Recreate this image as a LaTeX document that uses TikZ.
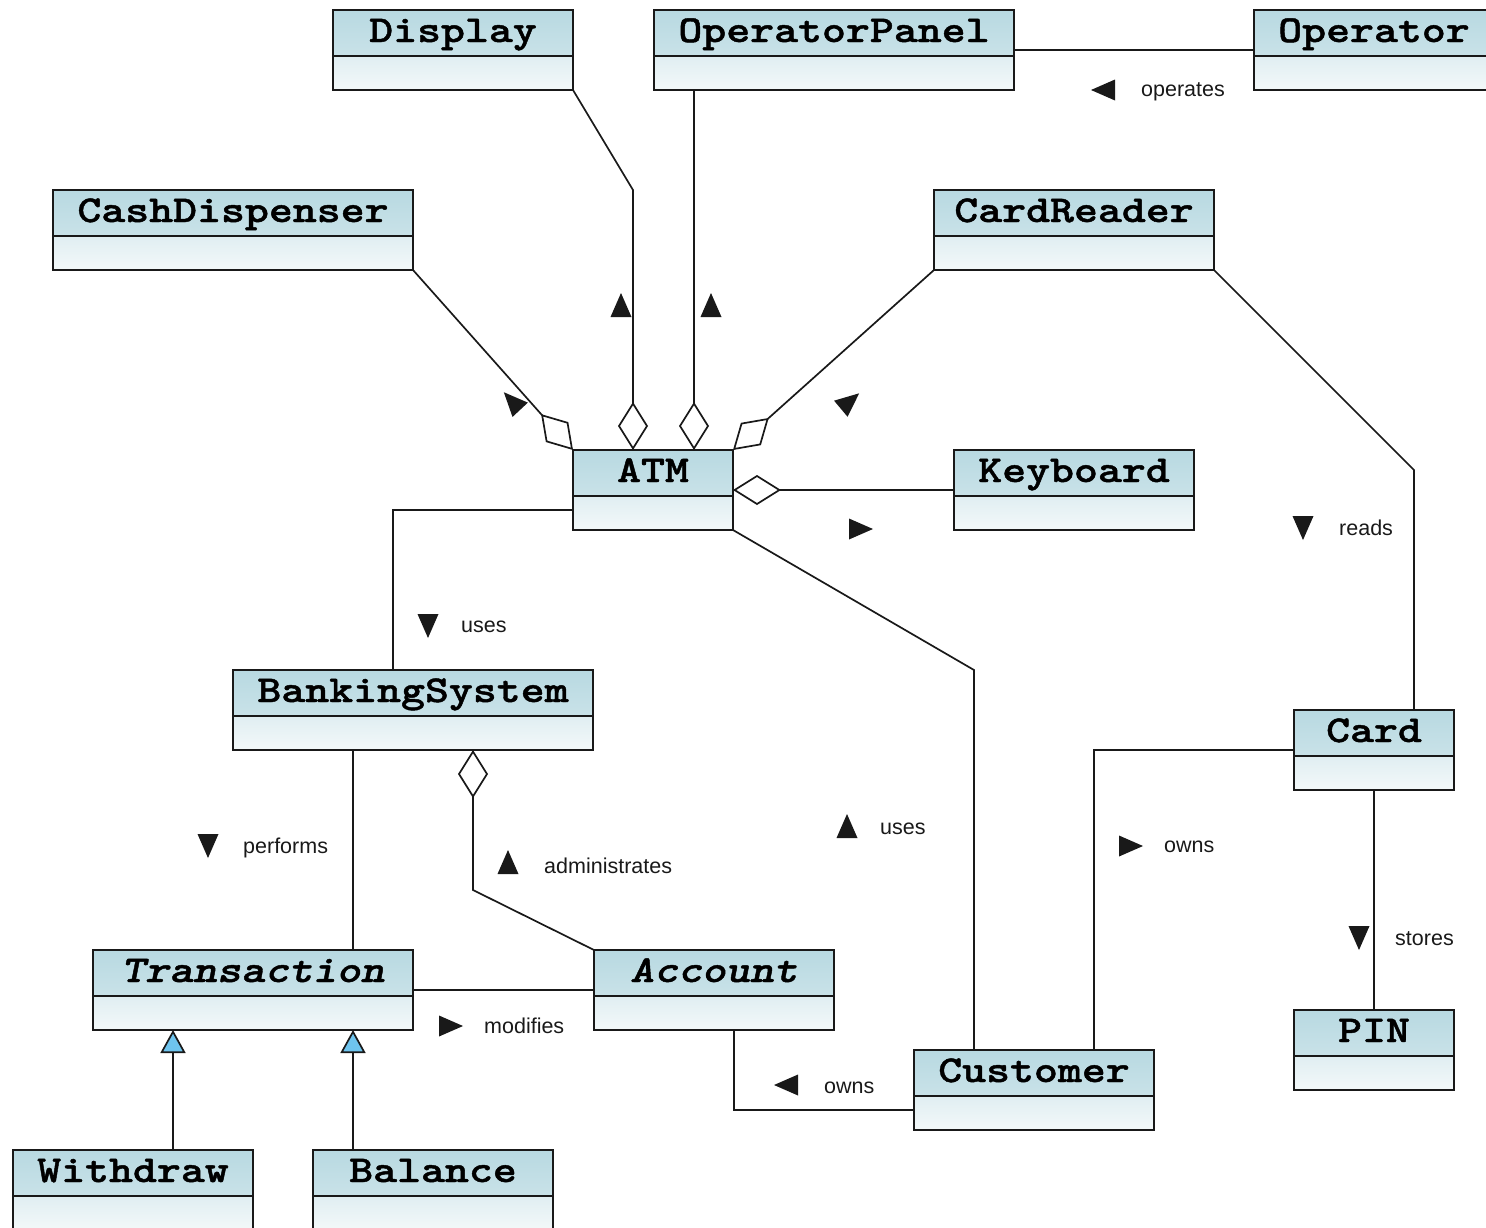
\documentclass[tikz,border=0pt]{standalone}
\usepackage{fontspec}
\setmainfont{Liberation Sans}
\newfontfamily\classfont{Latin Modern Mono Light}[FakeStretch=1.2, BoldFeatures={FakeBold=1.2}, BoldItalicFeatures={FakeBold=1.2}]
\usetikzlibrary{arrows.meta,calc}

\definecolor{hdrtop}{RGB}{184,217,225}
\definecolor{hdrbot}{RGB}{214,233,238}
\definecolor{bodytop}{RGB}{224,238,242}
\definecolor{bodybot}{RGB}{243,248,249}
\definecolor{genblue}{RGB}{110,196,238}
\definecolor{ink}{RGB}{25,25,25}

\tikzset{
  % UML class box: shaded name compartment over an empty body compartment
  umlclass/.style={draw=ink, line width=1.8pt, inner sep=0pt, outer sep=0pt,
    text width=#1, align=center, text height=32pt, text depth=48pt,
    font=\classfont\bfseries\fontsize{38}{38}\selectfont,
    path picture={
      \shade[top color=hdrtop, bottom color=hdrbot]
        (path picture bounding box.north west) rectangle
        ([yshift=-46pt]path picture bounding box.north east);
      \shade[top color=bodytop, bottom color=bodybot]
        ([yshift=-46pt]path picture bounding box.north west) rectangle
        (path picture bounding box.south east);
      \draw[ink, line width=1.8pt]
        ([yshift=-46pt]path picture bounding box.north west) --
        ([yshift=-46pt]path picture bounding box.north east);
    }},
  abstract/.style={font=\classfont\bfseries\itshape\fontsize{38}{38}\selectfont},
  assoc/.style={draw=ink, line width=1.7pt},
  agg/.style={assoc, -{Diamond[length=48pt, width=30pt, fill=white]}},
  gen/.style={assoc, -{Triangle[length=23pt, width=25pt, fill=genblue]}},
  lbl/.style={anchor=base west, inner sep=0pt, text=ink,
    font=\fontsize{21.5}{24}\selectfont},
  dirmark/.pic={\fill[ink] (12,0) -- (-12,10.5) -- (-12,-10.5) -- cycle;},
}

\begin{document}
\begin{tikzpicture}[x=1pt, y=-1pt]
\useasboundingbox (0,0) rectangle (1486,1227);
\clip (0,0) rectangle (1486,1227);

% classes
\node[umlclass=240pt] (display)       at (453,50)   {Display};
\node[umlclass=360pt] (operatorpanel) at (834,50)   {OperatorPanel};
\node[umlclass=240pt] (operator)      at (1374,50)  {Operator};
\node[umlclass=360pt] (cashdispenser) at (233,230)  {CashDispenser};
\node[umlclass=280pt] (cardreader)    at (1074,230) {CardReader};
\node[umlclass=160pt] (atm)           at (653,490)  {ATM};
\node[umlclass=240pt] (keyboard)      at (1074,490) {Keyboard};
\node[umlclass=360pt] (bankingsystem) at (413,710)  {BankingSystem};
\node[umlclass=160pt] (card)          at (1374,750) {Card};
\node[umlclass=320pt, abstract] (transaction) at (253,990) {Transaction};
\node[umlclass=240pt, abstract] (account)     at (714,990) {Account};
\node[umlclass=160pt] (pin)           at (1374,1050) {PIN};
\node[umlclass=240pt] (customer)      at (1034,1090) {Customer};
\node[umlclass=240pt] (withdraw)      at (133,1190) {Withdraw};
\node[umlclass=240pt] (balance)       at (433,1190) {Balance};

% aggregations into the ATM
\draw[agg] (display.south east) -- (633,190) -- ([xshift=-20pt]atm.north);
\draw[agg] ([xshift=41pt]atm.north |- operatorpanel.south) -- ([xshift=41pt]atm.north);
\draw[agg] (cashdispenser.south east) -- (atm.north west);
\draw[agg] (cardreader.south west) -- (atm.north east);
\draw[agg] (keyboard.west) -- (atm.east);
\draw[agg] (account.north west) -- (473,890) -- ([xshift=60pt]bankingsystem.south);

% plain associations
\draw[assoc] (operatorpanel.east) -- (operator.west);
\draw[assoc] ([yshift=-20pt]atm.west) -| ([xshift=-20pt]bankingsystem.north);
\draw[assoc] (atm.south east) -- (974,670) -- ([xshift=-60pt]customer.north);
\draw[assoc] (cardreader.south east) -- (1414,470) -- ([xshift=40pt]card.north);
\draw[assoc] (card.west) -| ([xshift=60pt]customer.north);
\draw[assoc] (card.south) -- (pin.north);
\draw[assoc] ([xshift=-60pt]bankingsystem.south) -- ([xshift=100pt]transaction.north);
\draw[assoc] (transaction.east) -- (account.west);
\draw[assoc] ([xshift=20pt]account.south) |- ([yshift=-20pt]customer.west);

% generalizations
\draw[gen] ([xshift=40pt]withdraw.north) -- ([xshift=-80pt]transaction.south);
\draw[gen] ([xshift=-80pt]balance.north) -- ([xshift=100pt]transaction.south);

% reading-direction markers
\pic[rotate=180] at (1103,90)  {dirmark};
\pic[rotate=90]  at (621,305)  {dirmark};
\pic[rotate=90]  at (711,305)  {dirmark};
\pic[rotate=133] at (512,401)  {dirmark};
\pic[rotate=40]  at (850,401)  {dirmark};
\pic[rotate=0]   at (861,529)  {dirmark};
\pic[rotate=270] at (428,626)  {dirmark};
\pic[rotate=270] at (1303,528) {dirmark};
\pic[rotate=90]  at (847,826)  {dirmark};
\pic[rotate=0]   at (1131,846) {dirmark};
\pic[rotate=270] at (208,846)  {dirmark};
\pic[rotate=90]  at (508,862)  {dirmark};
\pic[rotate=270] at (1359,938) {dirmark};
\pic[rotate=0]   at (451,1026) {dirmark};
\pic[rotate=180] at (786,1085) {dirmark};

% association names
\node[lbl] (l-operates) at (1141,96)  {operates};
\node[lbl] (l-uses1)    at (461,632)  {uses};
\node[lbl] (l-reads)    at (1339,535) {reads};
\node[lbl] (l-uses2)    at (880,834)  {uses};
\node[lbl] (l-owns1)    at (1164,852) {owns};
\node[lbl] (l-performs) at (243,853)  {performs};
\node[lbl] (l-admin)    at (544,873)  {administrates};
\node[lbl] (l-stores)   at (1395,945) {stores};
\node[lbl] (l-modifies) at (484,1033) {modifies};
\node[lbl] (l-owns2)    at (824,1093) {owns};
\end{tikzpicture}
\end{document}
